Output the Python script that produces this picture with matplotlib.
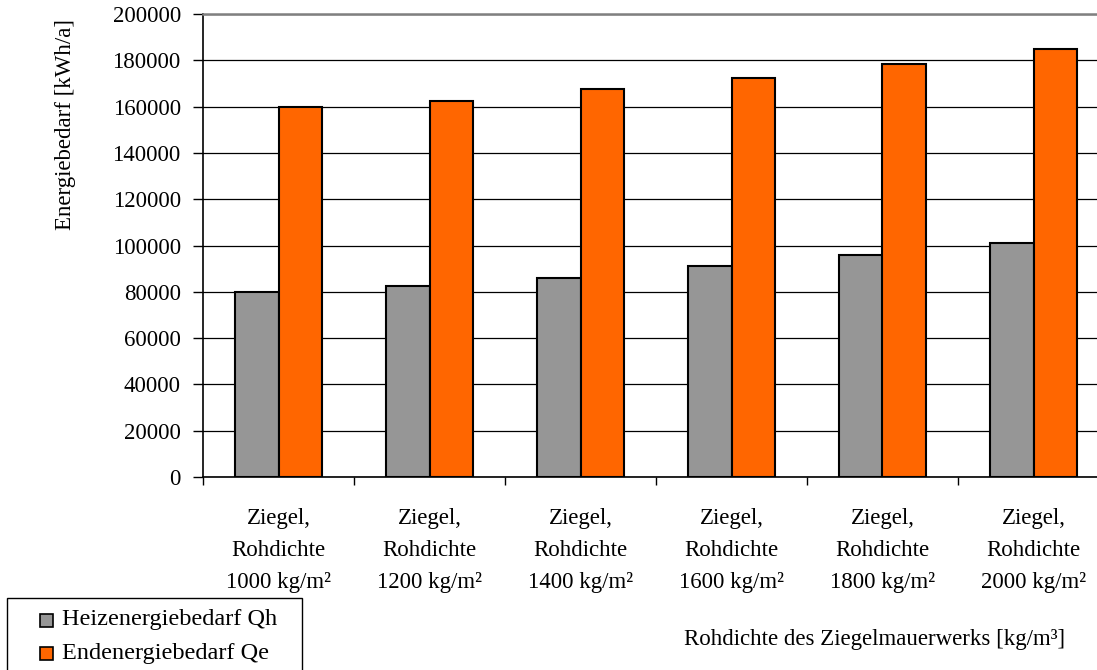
import matplotlib
matplotlib.use("Agg")
import matplotlib.pyplot as plt
import numpy as np
from matplotlib.patches import Rectangle

plt.rcParams['font.family'] = ['Liberation Serif', 'DejaVu Serif']

categories = [
    "Ziegel,\nRohdichte\n1000 kg/m²",
    "Ziegel,\nRohdichte\n1200 kg/m²",
    "Ziegel,\nRohdichte\n1400 kg/m²",
    "Ziegel,\nRohdichte\n1600 kg/m²",
    "Ziegel,\nRohdichte\n1800 kg/m²",
    "Ziegel,\nRohdichte\n2000 kg/m²",
]
heizenergie_qh = [80000, 82500, 86000, 91000, 96000, 101000]
endenergie_qe = [160000, 162500, 167500, 172500, 178500, 185000]
series_names = ["Heizenergiebedarf Qh", "Endenergiebedarf Qe"]
series_colors = ["#969696", "#FF6600"]
yticks = list(range(0, 200001, 20000))

FS = 16.5
W, H = 1097, 670
fig = plt.figure(figsize=(W / 100, H / 100), dpi=100)
ax = fig.add_axes([203 / W, (H - 477) / H, 906 / W, 463 / H])

x = np.arange(len(categories))
bw = 0.29
for off, vals, col in [(-bw / 2, heizenergie_qh, series_colors[0]),
                       (bw / 2, endenergie_qe, series_colors[1])]:
    ax.bar(x + off, vals, bw, color=col, edgecolor="black", linewidth=1.5, zorder=3)

ax.set_xlim(-0.5, len(categories) - 0.5)
ax.set_ylim(0, 200000)
ax.set_yticks(yticks)
ax.set_yticklabels([str(v) for v in yticks], fontsize=FS)
ax.yaxis.grid(True, color="black", linewidth=0.9, zorder=0)
ax.set_axisbelow(True)

ax.set_xticks(np.arange(len(categories) + 1) - 0.5)
ax.set_xticklabels([])
ax.set_xticks(x, minor=True)
ax.set_xticklabels(categories, minor=True, fontsize=FS, linespacing=1.7)
ax.tick_params(axis="x", which="minor", length=0, pad=22)
ax.tick_params(axis="x", which="major", length=6, direction="out", width=1)
ax.tick_params(axis="y", length=7, width=1, pad=9)

ax.spines["right"].set_visible(False)
ax.spines["top"].set_color("#808080")
ax.spines["top"].set_linewidth(1.8)
ax.spines["left"].set_linewidth(1.2)
ax.spines["bottom"].set_linewidth(1.2)

fig.text(65 / W, 1 - 124 / H, "Energiebedarf [kWh/a]", rotation=90,
         ha="center", va="center", fontsize=FS)

fig.text(875 / W, 1 - 640 / H, "Rohdichte des Ziegelmauerwerks [kg/m³]",
         ha="center", va="center", fontsize=FS)

# Legend box, running off the bottom edge of the figure
def px(xp, yp):
    return xp / W, 1 - yp / H

box_x, box_y = px(7, 675)
fig.add_artist(Rectangle((box_x, box_y), 295 / W, 77 / H, transform=fig.transFigure,
                         facecolor="white", edgecolor="black", linewidth=1.0))
for i, (name, col) in enumerate(zip(series_names, series_colors)):
    yc = 620 + 33 * i
    sx, sy = px(40, yc + 6.5)
    fig.add_artist(Rectangle((sx, sy), 13 / W, 13 / H, transform=fig.transFigure,
                             facecolor=col, edgecolor="black", linewidth=1.2))
    tx, ty = px(62, yc)
    fig.text(tx, ty, name, ha="left", va="center", fontsize=17.5)

fig.savefig("out.png", dpi=100)
